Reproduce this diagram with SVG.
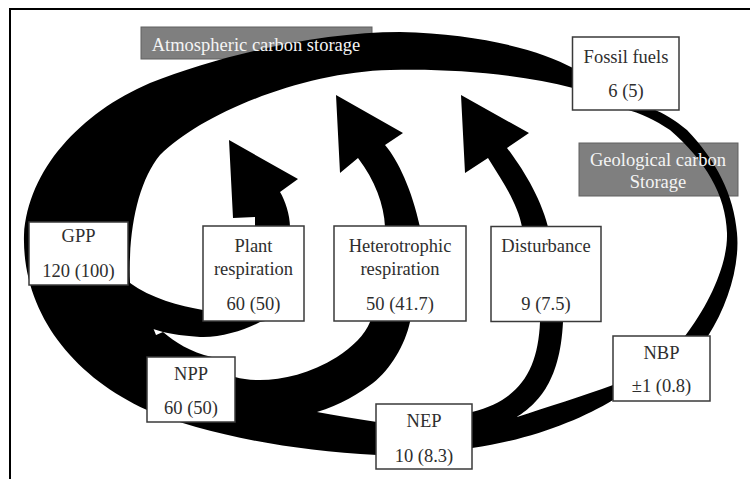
<svg xmlns="http://www.w3.org/2000/svg" width="750" height="479" viewBox="0 0 750 479">
<style>
.box{fill:#fff;stroke:#3a3a3a;stroke-width:1.5}
.gbox{fill:#7f7f7f;stroke:#606060;stroke-width:1}
.t{font-family:"Liberation Serif","Times New Roman",serif;font-size:18.5px;fill:#2e2e2e;text-anchor:middle}
.gt{font-family:"Liberation Serif","Times New Roman",serif;font-size:18.5px;fill:#f4f4f4;text-anchor:middle}
.flow{fill:#000;stroke:none}
.frame{stroke:#000;stroke-width:2;fill:none}
</style>
<rect width="750" height="479" fill="#fff"/>
<path class="frame" d="M10,479 V9 H750"/>
<g id="atmospheric-storage-box"><rect class="gbox" x="141" y="27" width="231" height="32"/></g>
<g id="geological-storage-box"><rect class="gbox" x="579" y="143" width="159" height="53"/></g>
<g id="connectors">
<path id="main-ring" class="flow" fill-rule="evenodd" d="M708,336 C728,305 740,265 737,233 C734,195 716,160 687,130 C675,120 663,113 653,109 L573,68 C540,50 480,34 400,32 C320,32 220,55 150,83 C80,113 28,170 24,235 C22,310 70,375 147,410 C200,432 280,450 377,455 L472,448 C530,440 580,420 613,400 Z M685,336 C708,306 728,265 727,233 C726,195 705,160 670,130 C655,120 640,113 625,109 L573,88 C520,74 450,68 390,70 C300,72 200,115 160,155 C138,182 128,230 130,283 L140,305 L152,325 L158,340 L200,380 C240,395 280,405 317,412 C335,415 355,419 377,422 L472,417 L517,417 C545,408 585,395 613,385 Z"/>
<path id="plant-respiration-flow" class="flow" d="M130,283 C150,298 180,306 203,310 L240,300 L255,260 L255,217 L233,218 L229,140 L298,179 L280,192 C285,200 290,215 290,227 L292,280 L282,318 L260,322 C245,330 220,338 200,337 C185,336 172,334 163,332 L140,325 L120,300 Z"/>
<path id="heterotrophic-flow" class="flow" d="M163,332 C175,342 190,352 212,357 L235,377 C260,384 300,380 337,357 C352,347 365,335 370,322 L380,280 L385,227 C384,205 375,180 358,158 L340,173 L336,95 L403,133 L385,145 C398,160 412,190 420,227 L420,280 L410,322 C405,345 390,370 373,383 C360,393 340,405 317,412 L280,416 L200,405 L150,372 L140,342 Z"/>
<path id="disturbance-flow" class="flow" d="M517,417 C535,405 560,385 563,322 L562,280 L548,227 C540,195 520,165 507,148 L529,133 L461,95 L465,173 L488,158 C505,185 518,205 522,227 L538,280 L540,322 C538,370 520,400 472,412 L472,422 Z"/>
</g>
<g id="atmospheric-storage"><text class="gt" x="256" y="51">Atmospheric carbon storage</text></g>
<g id="geological-storage"><text class="gt" x="658" y="166">Geological carbon</text><text class="gt" x="658" y="188">Storage</text></g>
<g id="fossil-fuels"><rect class="box" x="572.5" y="37" width="106.5" height="73"/><text class="t" x="626" y="63">Fossil fuels</text><text class="t" x="626" y="97">6 (5)</text></g>
<g id="gpp"><rect class="box" x="29" y="222" width="99" height="63"/><text class="t" x="78.5" y="242">GPP</text><text class="t" x="78.5" y="277">120 (100)</text></g>
<g id="plant-respiration"><rect class="box" x="203" y="226" width="101" height="95"/><text class="t" x="253.5" y="252">Plant</text><text class="t" x="253.5" y="275">respiration</text><text class="t" x="253.5" y="310">60 (50)</text></g>
<g id="heterotrophic-respiration"><rect class="box" x="334" y="226" width="132" height="95"/><text class="t" x="400" y="252">Heterotrophic</text><text class="t" x="400" y="275">respiration</text><text class="t" x="400" y="310">50 (41.7)</text></g>
<g id="disturbance"><rect class="box" x="491" y="226.5" width="110" height="95"/><text class="t" x="546" y="252">Disturbance</text><text class="t" x="546" y="310">9 (7.5)</text></g>
<g id="npp"><rect class="box" x="147" y="357" width="88" height="65"/><text class="t" x="191" y="380">NPP</text><text class="t" x="191" y="414">60 (50)</text></g>
<g id="nep"><rect class="box" x="376" y="404" width="96" height="65"/><text class="t" x="424" y="427">NEP</text><text class="t" x="424" y="462">10 (8.3)</text></g>
<g id="nbp"><rect class="box" x="613" y="336" width="97" height="65"/><text class="t" x="661.5" y="359">NBP</text><text class="t" x="661.5" y="392">±1 (0.8)</text></g>
</svg>
